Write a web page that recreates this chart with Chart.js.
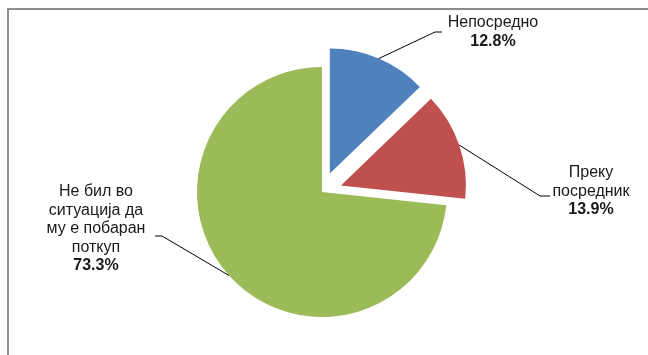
<!DOCTYPE html>
<html lang="mk">
<head>
  <meta charset="UTF-8" />
  <title>Поткуп</title>
  <script src="https://cdn.jsdelivr.net/npm/chart.js"></script>
  <style>
    html, body { margin: 0; padding: 0; background: #fff; }
    .wrap { position: relative; width: 648px; height: 355px; }
  </style>
</head>
<body>
  <div class="wrap"><canvas id="pieChart"></canvas></div>

  <script>
    // Data
    const categories = ['Непосредно', 'Преку посредник', 'Не бил во ситуација да му е побаран поткуп'];
    const shares = [12.8, 13.9, 73.3];
    const sliceColors = ['#4F81BD', '#C0504D', '#9BBB59'];
    const pullPx = [20, 20, 0]; // exploded slices

    // Label text lines and where each label box sits (layout only)
    const labelLines = [
      ['Непосредно'],
      ['Преку', 'посредник'],
      ['Не бил во', 'ситуација да', 'му е побаран', 'поткуп']
    ];
    const labelLayout = [
      { cx: 493, top: 23, elbow: [435, 32], end: [442, 32] },
      { cx: 591, top: 173, elbow: [540, 196], end: [550, 196] },
      { cx: 96, top: 192, elbow: [162, 236], end: [155, 236] }
    ];

    // Chart.js' own "offset" also grows the arc radius; here the slice is only
    // shifted along its mid angle so all slices keep one radius (like Excel's explode).
    const baseArcDraw = Chart.ArcElement.prototype.draw;
    Chart.ArcElement.prototype.draw = function (ctx) {
      const pull = this.$pull || 0;
      const mid = (this.startAngle + this.endAngle) / 2;
      ctx.save();
      ctx.translate(Math.cos(mid) * pull, Math.sin(mid) * pull);
      baseArcDraw.call(this, ctx);
      ctx.restore();
    };

    const explode = {
      id: 'explode',
      beforeDatasetsDraw(chart) {
        chart.getDatasetMeta(0).data.forEach((arc, i) => { arc.$pull = pullPx[i]; });
      }
    };

    const frame = {
      id: 'frame',
      beforeDraw(chart) {
        const ctx = chart.ctx;
        ctx.save();
        ctx.strokeStyle = '#8c8c8c';
        ctx.lineWidth = 2;
        ctx.beginPath();
        ctx.moveTo(648, 9);
        ctx.lineTo(8, 9);
        ctx.lineTo(8, 355);
        ctx.stroke();
        ctx.restore();
      }
    };

    const leaderLabels = {
      id: 'leaderLabels',
      afterDraw(chart) {
        const ctx = chart.ctx;
        const arcs = chart.getDatasetMeta(0).data;
        ctx.save();
        arcs.forEach((arc, i) => {
          const mid = (arc.startAngle + arc.endAngle) / 2;
          const r = pullPx[i] + arc.outerRadius;
          const ex = arc.x + Math.cos(mid) * r;
          const ey = arc.y + Math.sin(mid) * r;
          const L = labelLayout[i];
          ctx.strokeStyle = '#000';
          ctx.lineWidth = 1;
          ctx.beginPath();
          ctx.moveTo(ex, ey);
          ctx.lineTo(L.elbow[0], L.elbow[1]);
          ctx.lineTo(L.end[0], L.end[1]);
          ctx.stroke();

          ctx.fillStyle = '#1a1a1a';
          ctx.textAlign = 'center';
          ctx.textBaseline = 'middle';
          const lh = 18.5;
          let y = L.top;
          ctx.font = '16px "Liberation Sans", Arial, sans-serif';
          labelLines[i].forEach(t => { ctx.fillText(t, L.cx, y); y += lh; });
          ctx.font = 'bold 16px "Liberation Sans", Arial, sans-serif';
          ctx.fillText(shares[i].toFixed(1) + '%', L.cx, y);
        });
        ctx.restore();
      }
    };

    new Chart(document.getElementById('pieChart'), {
      type: 'pie',
      data: {
        labels: categories,
        datasets: [{
          data: shares,
          backgroundColor: sliceColors,
          borderWidth: 0
        }]
      },
      options: {
        responsive: true,
        maintainAspectRatio: false,
        animation: false,
        radius: 125,
        layout: { padding: { left: 60, right: 64, top: 40, bottom: 11 } },
        plugins: { legend: { display: false }, tooltip: { enabled: false } },
        events: []
      },
      plugins: [frame, explode, leaderLabels]
    });
  </script>
</body>
</html>
